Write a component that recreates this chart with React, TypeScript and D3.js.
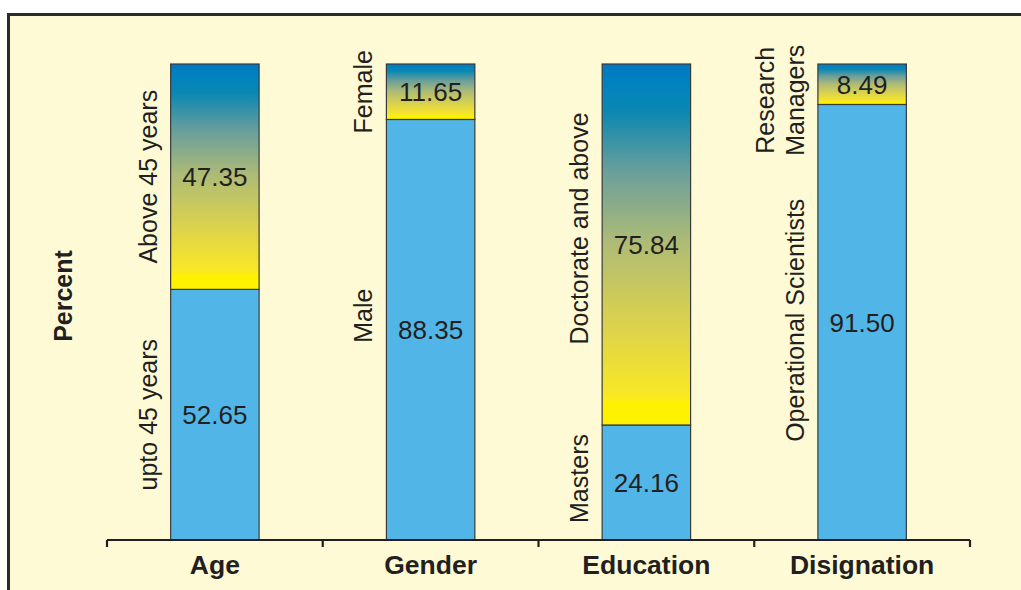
import { useEffect, useRef } from 'react';
import * as d3 from 'd3';

const categories = ['Age', 'Gender', 'Education', 'Disignation'];
const lowerValues = [52.65, 88.35, 24.16, 91.5];
const upperValues = [47.35, 11.65, 75.84, 8.49];
const lowerLabels = [['upto 45 years'], ['Male'], ['Masters'], ['Operational Scientists']];
const upperLabels = [['Above 45 years'], ['Female'], ['Doctorate and above'], ['Research', 'Managers']];
const yTitle = 'Percent';

export default function App() {
  const svgRef = useRef<SVGSVGElement>(null);

  useEffect(() => {
    if (!svgRef.current) return;
    const svg = d3.select(svgRef.current);
    svg.selectAll('*').remove();

    const width = 1021;
    const height = 590;
    const font = '"Liberation Sans", Arial, Helvetica, sans-serif';

    // background + frame
    svg.append('rect').attr('width', width).attr('height', height).attr('fill', '#ffffff');
    svg.append('rect')
      .attr('x', 8.5).attr('y', 14.5)
      .attr('width', width + 20).attr('height', height + 20)
      .attr('fill', '#fffad6')
      .attr('stroke', '#2b2b2b')
      .attr('stroke-width', 3);

    // gradient for upper segments
    const defs = svg.append('defs');
    const grad = defs.append('linearGradient')
      .attr('id', 'upperGrad')
      .attr('x1', 0).attr('y1', 0).attr('x2', 0).attr('y2', 1);
    const stops: Array<[number, string]> = [
      [0, '#0078c0'],
      [0.05, '#0082c0'],
      [0.13, '#0a88b2'],
      [0.3, '#6b9f9a'],
      [0.5, '#b0bc74'],
      [0.75, '#e0d548'],
      [0.92, '#f9e824'],
      [0.94, '#fff200'],
      [1, '#fff200'],
    ];
    stops.forEach(([o, c]) => grad.append('stop').attr('offset', o).attr('stop-color', c));

    const x = d3.scaleBand<string>()
      .domain(categories)
      .range([107, 970])
      .paddingInner(0.59)
      .paddingOuter(0.295);
    const y = d3.scaleLinear().domain([0, 100]).range([540, 64]);
    const step = x.step();
    const bw = x.bandwidth();

    const rows = categories.map((c, i) => ({
      c,
      lower: lowerValues[i],
      upper: upperValues[i],
      lowerLabel: lowerLabels[i],
      upperLabel: upperLabels[i],
    }));

    const g = svg.append('g');

    // lower segments
    g.selectAll('.lower')
      .data(rows)
      .join('rect')
      .attr('class', 'lower')
      .attr('x', d => x(d.c)!)
      .attr('y', d => y(d.lower))
      .attr('width', bw)
      .attr('height', d => y(0) - y(d.lower))
      .attr('fill', '#52b5e7')
      .attr('stroke', '#3a3a3a')
      .attr('stroke-width', 1.2);

    // upper segments
    g.selectAll('.upper')
      .data(rows)
      .join('rect')
      .attr('class', 'upper')
      .attr('x', d => x(d.c)!)
      .attr('y', d => y(d.lower + d.upper))
      .attr('width', bw)
      .attr('height', d => y(d.lower) - y(d.lower + d.upper))
      .attr('fill', 'url(#upperGrad)')
      .attr('stroke', '#3a3a3a')
      .attr('stroke-width', 1.2);

    // value labels
    const valueText = (val: (d: typeof rows[0]) => number, mid: (d: typeof rows[0]) => number) =>
      g.append('g').selectAll('text')
        .data(rows)
        .join('text')
        .attr('x', d => x(d.c)! + bw / 2)
        .attr('y', d => mid(d))
        .attr('dy', '0.36em')
        .attr('text-anchor', 'middle')
        .attr('font-family', font)
        .attr('font-size', 26)
        .attr('fill', '#231f20')
        .text(d => val(d).toFixed(2));

    valueText(d => d.lower, d => (y(0) + y(d.lower)) / 2);
    valueText(d => d.upper, d => (y(d.lower) + y(d.lower + d.upper)) / 2);

    // rotated segment labels
    const lowerShift = [0, -14, -4, -2];
    const upperShift = [0, 0, -16, 16];
    const rotLabel = (lines: string[], cx: number, cy: number) => {
      const t = g.append('text')
        .attr('transform', `translate(${cx},${cy}) rotate(-90)`)
        .attr('text-anchor', 'middle')
        .attr('font-family', font)
        .attr('font-size', 25)
        .attr('fill', '#231f20');
      lines.forEach((line, i) => {
        t.append('tspan')
          .attr('x', 0)
          .attr('y', (i - (lines.length - 1)) * 30)
          .attr('dy', '0.36em')
          .text(line);
      });
    };
    rows.forEach((d, i) => {
      const lx = x(d.c)! - 23;
      rotLabel(d.lowerLabel, lx, (y(0) + y(d.lower)) / 2 + lowerShift[i]);
      rotLabel(d.upperLabel, lx, (y(d.lower) + y(d.lower + d.upper)) / 2 + upperShift[i]);
    });

    // x axis
    const axis = svg.append('g').attr('stroke', '#231f20').attr('stroke-width', 2.2);
    axis.append('line')
      .attr('x1', 107).attr('x2', 970)
      .attr('y1', y(0)).attr('y2', y(0));
    axis.selectAll('.tick')
      .data(d3.range(categories.length + 1))
      .join('line')
      .attr('x1', i => 107 + i * step)
      .attr('x2', i => 107 + i * step)
      .attr('y1', y(0))
      .attr('y2', y(0) + 7);

    svg.append('g').selectAll('text')
      .data(categories)
      .join('text')
      .attr('x', d => x(d)! + bw / 2)
      .attr('y', 574)
      .attr('text-anchor', 'middle')
      .attr('font-family', font)
      .attr('font-size', 26.5)
      .attr('font-weight', 'bold')
      .attr('fill', '#231f20')
      .text(d => d);

    svg.append('text')
      .attr('transform', `translate(63,${(y(0) + y(100)) / 2 - 6}) rotate(-90)`)
      .attr('text-anchor', 'middle')
      .attr('dy', '0.36em')
      .attr('font-family', font)
      .attr('font-size', 25)
      .attr('font-weight', 'bold')
      .attr('fill', '#231f20')
      .text(yTitle);
  }, []);

  return (
    <svg
      ref={svgRef}
      width={1021}
      height={590}
      style={{ position: 'absolute', left: 0, top: 0, display: 'block' }}
    />
  );
}
